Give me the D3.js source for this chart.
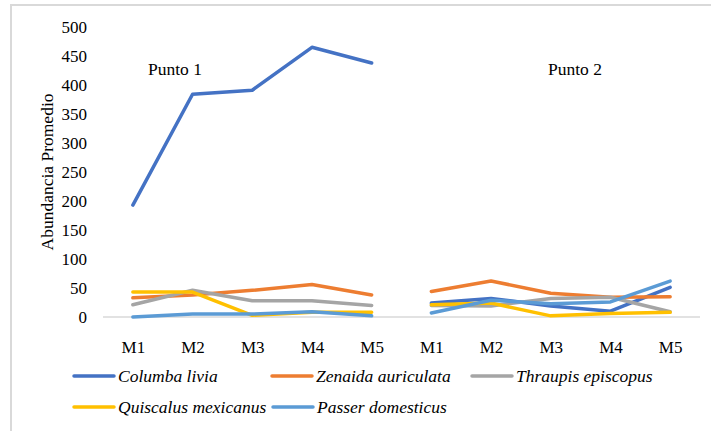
<!DOCTYPE html>
<html><head><meta charset="utf-8">
<script src="https://cdn.jsdelivr.net/npm/d3@7"></script>
<style>
html,body{margin:0;padding:0;background:#fff;}
svg{display:block;}
svg text{font-family:'Liberation Serif','Times New Roman',Tinos,'DejaVu Serif',serif !important;fill:#000;}
</style></head>
<body><svg id="chart" width="711" height="431"></svg>
<script>
const months = ["M1","M2","M3","M4","M5"];
const sites = ["Punto 1","Punto 2"];
const yTicks = [0,50,100,150,200,250,300,350,400,450,500];
const seriesNames = ["Columba livia","Zenaida auriculata","Thraupis episcopus","Quiscalus mexicanus","Passer domesticus"];
const seriesColors = ["#4472C4","#ED7D31","#A5A5A5","#FFC000","#5B9BD5"];
// values per site: [Punto 1 M1..M5], [Punto 2 M1..M5]
const columbaLivia      = [[193,384,391,465,438],[24,32,19,10,51]];
const zenaidaAuriculata = [[33,38,46,56,38],[44,62,41,34,35]];
const thraupisEpiscopus = [[21,46,28,28,20],[20,19,32,34,9]];
const quiscalusMexicanus= [[43,43,3,8,8],[21,24,2,6,8]];
const passerDomesticus  = [[0,5,5,9,2],[7,29,23,26,62]];
const seriesValues = [columbaLivia,zenaidaAuriculata,thraupisEpiscopus,quiscalusMexicanus,passerDomesticus];

const FONT = "'Liberation Serif','Times New Roman',Tinos,'DejaVu Serif',serif";
const svg = d3.select("#chart");
// outer border (left and top)
svg.append("path").attr("d","M11,431 V5 H711").attr("fill","none").attr("stroke","#d9d9d9").attr("stroke-width",2);

const keys = [];
sites.forEach((s,si)=>months.forEach(m=>keys.push(si+"-"+m)));
const x = d3.scalePoint().domain(keys).range([103,700]).padding(0.5);
const y = d3.scaleLinear().domain([0,500]).range([317,27]);

// y axis labels
const yAxis = d3.axisLeft(y).tickValues(yTicks).tickSize(0).tickPadding(0).tickFormat(d3.format("d"));
const yg = svg.append("g").attr("transform","translate(87,0)").call(yAxis);
yg.attr("font-family",FONT);
yg.select(".domain").remove();
yg.selectAll("text").attr("font-size","17px").style("font-family",FONT).attr("fill","#000").attr("dy","0.35em");

// baseline
svg.append("line").attr("x1",103).attr("x2",700).attr("y1",y(0)).attr("y2",y(0)).attr("stroke","#d9d9d9").attr("stroke-width",1.3);

// x axis labels
const xAxis = d3.axisBottom(x).tickSize(0).tickPadding(0).tickFormat(d=>d.split("-")[1]);
const xg = svg.append("g").attr("transform","translate(0,341)").call(xAxis);
xg.attr("font-family",FONT);
xg.select(".domain").remove();
xg.selectAll("text").attr("font-size","17px").style("font-family",FONT).attr("fill","#000").attr("dy","0.35em").attr("y",6);

// y title
svg.append("text").attr("transform","translate(47,172) rotate(-90)").attr("text-anchor","middle")
  .attr("dy","0.35em").attr("font-size","17.5px").style("font-family",FONT).text("Abundancia Promedio");

// site labels
const siteLabelX = [175,575];
sites.forEach((s,i)=>{
  svg.append("text").attr("x",siteLabelX[i]).attr("y",69).attr("dy","0.35em").attr("text-anchor","middle")
    .attr("font-size","17.5px").style("font-family",FONT).text(s);
});

// lines
const line = d3.line().x(d=>x(d.k)).y(d=>y(d.v));
seriesValues.forEach((sv,i)=>{
  sv.forEach((vals,si)=>{
    const pts = vals.map((v,mi)=>({k:si+"-"+months[mi],v}));
    svg.append("path").datum(pts).attr("d",line).attr("fill","none")
      .attr("stroke",seriesColors[i]).attr("stroke-width",3.5)
      .attr("stroke-linejoin","round").attr("stroke-linecap","round");
  });
});

// legend
const legendPos = [[74,376],[272,376],[472,376],[74,407],[273,407]];
seriesNames.forEach((n,i)=>{
  const [lx,ly] = legendPos[i];
  svg.append("line").attr("x1",lx).attr("x2",lx+40).attr("y1",ly).attr("y2",ly)
    .attr("stroke",seriesColors[i]).attr("stroke-width",3.5).attr("stroke-linecap","round");
  svg.append("text").attr("x",lx+44).attr("y",ly).attr("dy","0.35em")
    .attr("font-size","17.5px").attr("font-style","italic").style("font-family",FONT).text(n);
});
</script>
</body></html>
